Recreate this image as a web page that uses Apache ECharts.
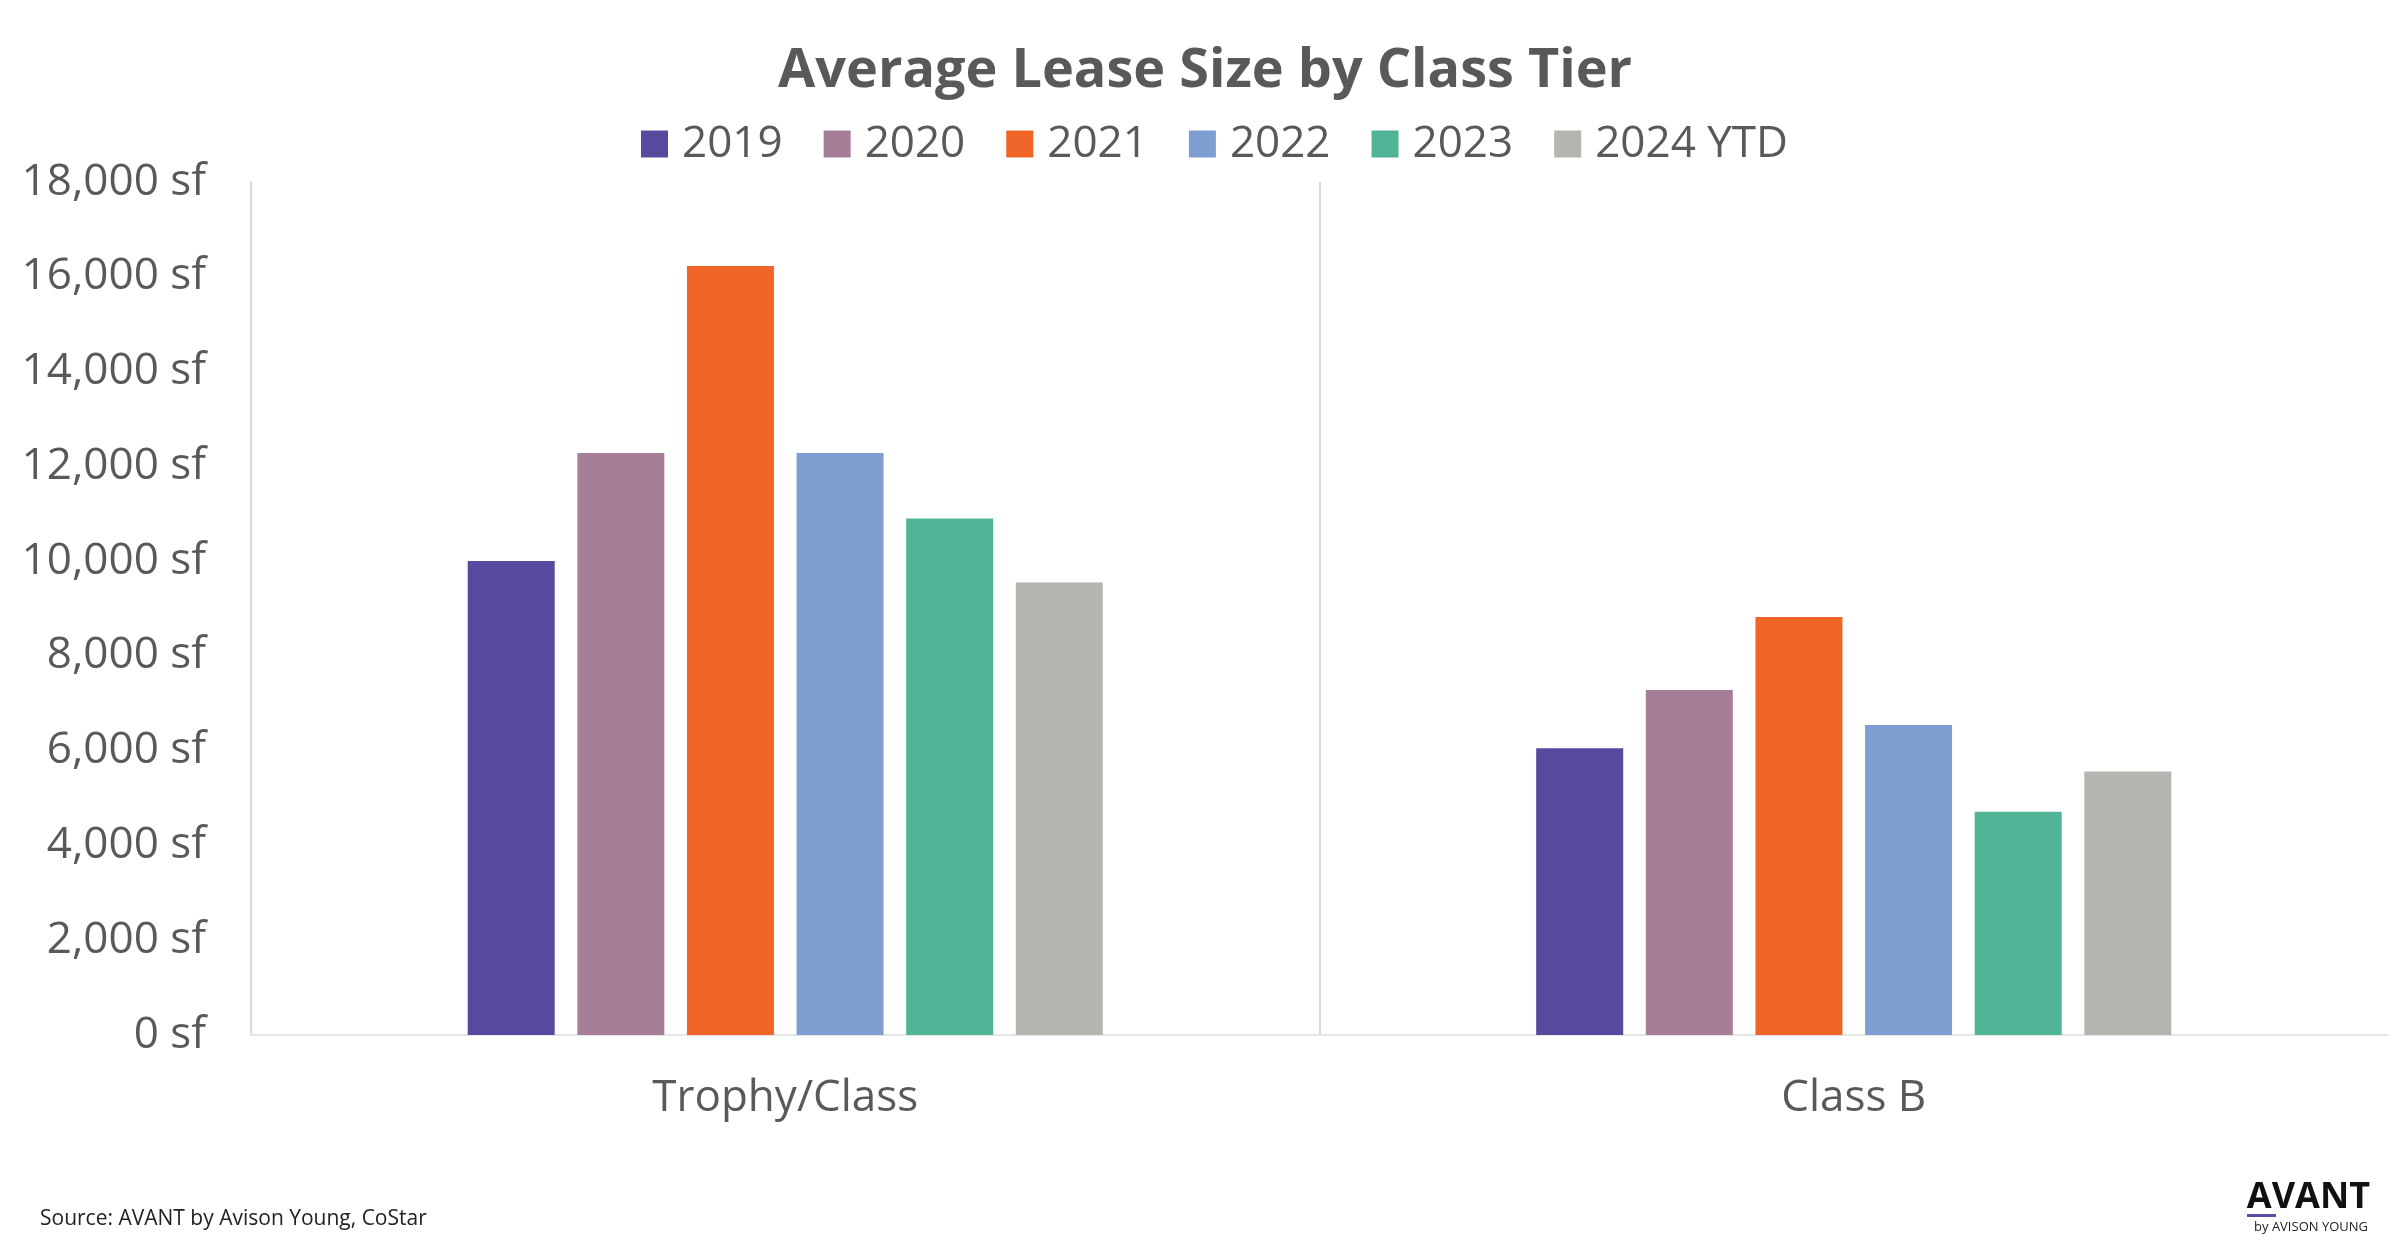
<!DOCTYPE html>
<html>
<head>
<meta charset="utf-8">
<script src="https://cdn.jsdelivr.net/npm/echarts@6/dist/echarts.min.js"></script>
<style>
html,body{margin:0;padding:0;background:#fff;}
#chart{width:2400px;height:1260px;}
</style>
</head>
<body>
<div id="chart"></div>
<script>
const categories = ['Trophy/Class', 'Class B'];
const years = ['2019', '2020', '2021', '2022', '2023', '2024 YTD'];
const trophyClassValues = [10000, 12280, 16230, 12280, 10900, 9550];
const classBValues = [6050, 7280, 8820, 6540, 4710, 5560];
const yTicks = [0, 2000, 4000, 6000, 8000, 10000, 12000, 14000, 16000, 18000];

const palette = ['#56499E', '#A67E97', '#EF6528', '#7F9ED2', '#4FB596', '#B4B5AF'];
const textColor = '#595959';
const font = '"Open Sans", "Liberation Sans", sans-serif';

const series = years.map((y, i) => ({
  name: y,
  type: 'bar',
  data: [trophyClassValues[i], classBValues[i]],
  barWidth: 87,
  barGap: '26%',
  itemStyle: { color: palette[i] },
  emphasis: { disabled: true }
}));

const chart = echarts.init(document.getElementById('chart'), null, { renderer: 'canvas' });
chart.setOption({
  animation: false,
  backgroundColor: '#ffffff',
  color: palette,
  title: {
    text: 'Average Lease Size by Class Tier',
    left: 773,
    top: 40,
    textStyle: { fontFamily: font, fontSize: 54, fontWeight: 'bold', color: textColor }
  },
  legend: {
    data: years,
    top: 117,
    left: 636,
    itemWidth: 27,
    itemHeight: 27,
    itemGap: 41,
    icon: 'rect',
    textStyle: { fontFamily: font, fontSize: 44, color: textColor, padding: [0, 0, 0, 9] }
  },
  grid: { left: 251, right: 12, top: 182, bottom: 225, containLabel: false },
  xAxis: {
    type: 'category',
    data: categories,
    axisLine: { show: true, lineStyle: { color: '#e6e6e6', width: 2 } },
    axisTick: { show: false },
    axisLabel: { fontFamily: font, fontSize: 44, color: textColor, margin: 41 },
    splitLine: { show: true, lineStyle: { color: ['rgba(0,0,0,0)', '#d9d9d9', 'rgba(0,0,0,0)'], width: 2 } }
  },
  yAxis: {
    type: 'value',
    min: 0,
    max: 18000,
    interval: 2000,
    axisLine: { show: true, lineStyle: { color: '#d9d9d9', width: 2 } },
    axisTick: { show: false },
    splitLine: { show: false },
    axisLabel: {
      fontFamily: font, fontSize: 44, color: textColor, margin: 45,
      formatter: v => v.toLocaleString('en-US') + ' sf'
    }
  },
  graphic: [
    { type: 'text', left: 40, top: 1209, style: { text: 'Source: AVANT by Avison Young, CoStar', fontFamily: font, fontSize: 21, fill: '#222222' } },
    { type: 'text', right: 30, top: 1180, style: { text: 'AVANT', fontFamily: font, fontSize: 36, fontWeight: 'bold', fill: '#111111' } },
    { type: 'rect', left: 2247, top: 1214, shape: { width: 29, height: 3 }, style: { fill: '#5B4BAA' } },
    { type: 'text', right: 32, top: 1221, style: { text: 'by AVISON YOUNG', fontFamily: font, fontSize: 13, fill: '#222222' } }
  ],
  series: series
});
</script>
</body>
</html>
